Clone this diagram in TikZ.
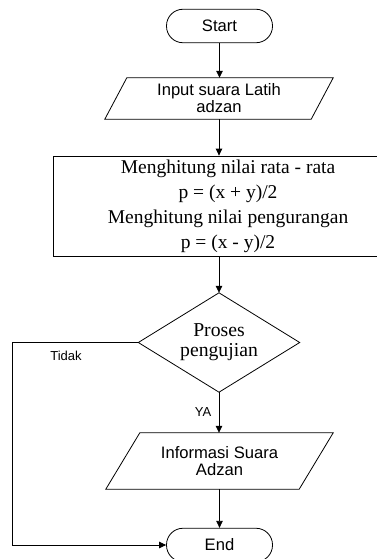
\documentclass[tikz,border=0pt]{standalone}
\usepackage{fontspec}
\setmainfont{Liberation Serif}
\setsansfont{Liberation Sans}
\usetikzlibrary{arrows.meta}
\tikzset{
  base/.style={line width=0.8pt},
  arr/.style={base,-{Triangle[length=7pt,width=6.5pt]}},
  terminal/.style={base,draw,rectangle,rounded corners=16.5pt,minimum width=106pt,minimum height=33.5pt,inner sep=0pt,font=\sffamily\fontsize{16.6}{17}\selectfont},
  iobox/.style={rectangle,inner sep=0pt,align=center,font=\sffamily\fontsize{16.6}{17}\selectfont},
  procbox/.style={base,draw,rectangle,inner sep=0pt,align=center,font=\rmfamily\fontsize{19.5}{25}\selectfont},
  decbox/.style={rectangle,inner sep=0pt,align=center,minimum width=161pt,minimum height=99pt,font=\rmfamily\fontsize{19.7}{20}\selectfont},
  lbl/.style={inner sep=0pt,font=\sffamily\fontsize{13}{14}\selectfont}
}
\begin{document}
\begin{tikzpicture}[x=1pt,y=-1pt]
\useasboundingbox (0,0) rectangle (377,559);
\clip (0,0) rectangle (377,559);
\fill[white] (0,0) rectangle (377,559);
% nodes
\node[terminal] (start) at (219.5,26) {Start};
\node[iobox,minimum width=206pt,minimum height=41pt] (in) at (219,98.5) {Input suara Latih\\adzan};
\draw[base] ([xshift=11pt]in.north west) -- ([xshift=11pt]in.north east) -- ([xshift=-11pt]in.south east) -- ([xshift=-11pt]in.south west) -- cycle;
\node[procbox,minimum width=350pt,minimum height=100pt] (calc) at (228,206) {Menghitung nilai rata - rata\\p = (x + y)/2\\Menghitung nilai pengurangan\\p = (x - y)/2};
\node[decbox] (dec) at (219,342.5) {Proses\\pengujian};
\draw[base] (dec.north) -- (dec.east) -- (dec.south) -- (dec.west) -- cycle;
\node[iobox,minimum width=193pt,minimum height=56pt] (out) at (219.5,461) {Informasi Suara\\Adzan};
\draw[base] ([xshift=17pt]out.north west) -- ([xshift=17pt]out.north east) -- ([xshift=-17pt]out.south east) -- ([xshift=-17pt]out.south west) -- cycle;
\node[terminal] (end) at (219.5,545) {End};
\node[lbl] (tidak) at (66,356) {Tidak};
\node[lbl] (ya) at (203,412) {YA};
\coordinate (corner) at (12,342.5);
% connectors
\draw[arr] (start.south) -- (start.south |- in.north);
\draw[arr] (in.south) -- (in.south |- calc.north);
\draw[arr] (dec.north |- calc.south) -- (dec.north);
\draw[arr] (dec.south) -- (dec.south |- out.north);
\draw[arr] (out.south) -- (out.south |- end.north);
\draw[arr] (dec.west) -- (corner) |- (end.west);
\end{tikzpicture}
\end{document}
